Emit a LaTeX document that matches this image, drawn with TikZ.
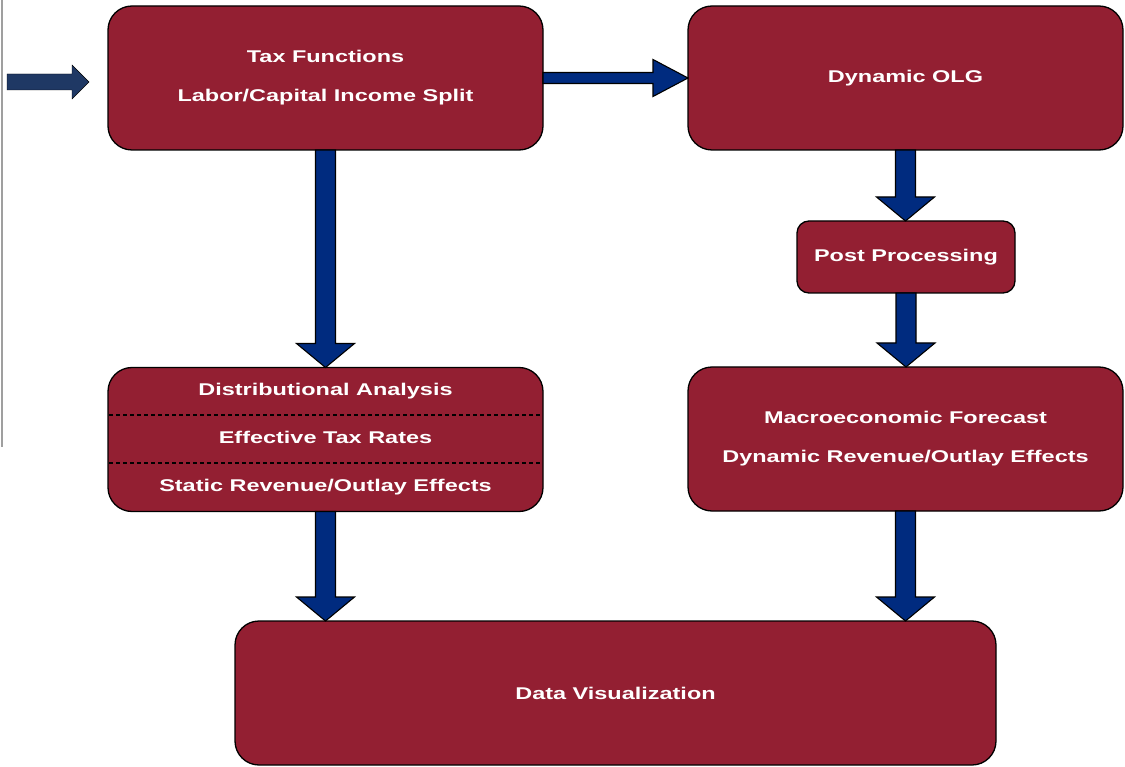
\documentclass[tikz,border=0pt]{standalone}
\usepackage{fontspec}
\newfontfamily\boxfont[FakeStretch=1.38]{Liberation Sans Bold}
\usetikzlibrary{calc}
\definecolor{boxred}{RGB}{147,31,50}
\definecolor{flownavy}{RGB}{0,43,127}
\definecolor{inputnavy}{RGB}{31,56,100}

\begin{document}
\begin{tikzpicture}[x=1pt,y=-1pt,
  stage/.style={draw=black, line width=1.3pt, fill=boxred, rounded corners=24pt,
    text=white, font=\boxfont\fontsize{17}{39}\selectfont, align=center,
    inner sep=0pt, outer sep=0pt, minimum width=435pt, minimum height=144pt},
  fatdown/.style={draw=black, line width=1.1pt, fill=flownavy, line join=miter,
    to path={let \p1=(\tikztostart), \p2=(\tikztotarget) in
      (\x1-10pt,\y1) -- (\x1-10pt,\y2+24pt) -- (\x1-29pt,\y2+24pt) -- (\x1,\y2)
      -- (\x1+29pt,\y2+24pt) -- (\x1+10pt,\y2+24pt) -- (\x1+10pt,\y1) -- cycle}},
  fatright/.style={draw=black, line width=1.1pt, fill=flownavy, line join=miter,
    to path={let \p1=(\tikztostart), \p2=(\tikztotarget) in
      (\x1,\y1-5.5pt) -- (\x2-35pt,\y1-5.5pt) -- (\x2-35pt,\y1-18.5pt) -- (\x2,\y1)
      -- (\x2-35pt,\y1+18.5pt) -- (\x2-35pt,\y1+5.5pt) -- (\x1,\y1+5.5pt) -- cycle}},
  inarrow/.style={fill=inputnavy,
    to path={let \p1=(\tikztostart), \p2=(\tikztotarget) in
      (\x1,\y1-8pt) -- (\x2-17pt,\y1-8pt) -- (\x2-17pt,\y1-17pt) -- (\x2,\y1)
      -- (\x2-17pt,\y1+17pt) -- (\x2-17pt,\y1+8pt) -- (\x1,\y1+8pt) -- cycle}}
]
\useasboundingbox (0,0) rectangle (1125,767);

% thin grey rule on the left edge
\coordinate (ruletop) at (1.5,0);
\coordinate (rulebot) at (1.5,447);
\draw[gray!75, line width=2pt] (ruletop) -- (rulebot);

% stages
\node[stage] (tax) at (325.5,78) {Tax Functions\\Labor/Capital Income Split};
\node[stage] (olg) at (905.5,78) {Dynamic OLG};
\node[stage, minimum width=218pt, minimum height=72pt, rounded corners=12pt] (post) at (906,257) {Post Processing};
\node[stage, font=\boxfont\fontsize{17}{48}\selectfont] (dist) at (325.5,439.5)
  {Distributional Analysis\\Effective Tax Rates\\Static Revenue/Outlay Effects};
\node[stage] (macro) at (905.5,439) {Macroeconomic Forecast\\Dynamic Revenue/Outlay Effects};
\node[stage, minimum width=761pt] (viz) at (615.5,693) {Data Visualization};

% separators inside the distributional box
\draw[black, line width=1.3pt, dash pattern=on 4pt off 3pt]
  ($(dist.west)+(1,-24.5)$) -- ($(dist.east)+(-1,-24.5)$);
\draw[black, line width=1.3pt, dash pattern=on 4pt off 3pt]
  ($(dist.west)+(1,23.5)$) -- ($(dist.east)+(-1,23.5)$);

% input arrow
\coordinate (insrc) at (7,82);
\coordinate (intip) at (89,82);
\draw[inarrow] (insrc) to (intip);

% flow arrows
\draw[fatright] (tax.east) to (olg.west);
\draw[fatdown] (tax.south) to (dist.north);
\draw[fatdown] (olg.south) to (post.north);
\draw[fatdown] (post.south) to (macro.north);
\draw[fatdown] (dist.south) to (dist.south |- viz.north);
\draw[fatdown] (macro.south) to (macro.south |- viz.north);
\end{tikzpicture}
\end{document}
